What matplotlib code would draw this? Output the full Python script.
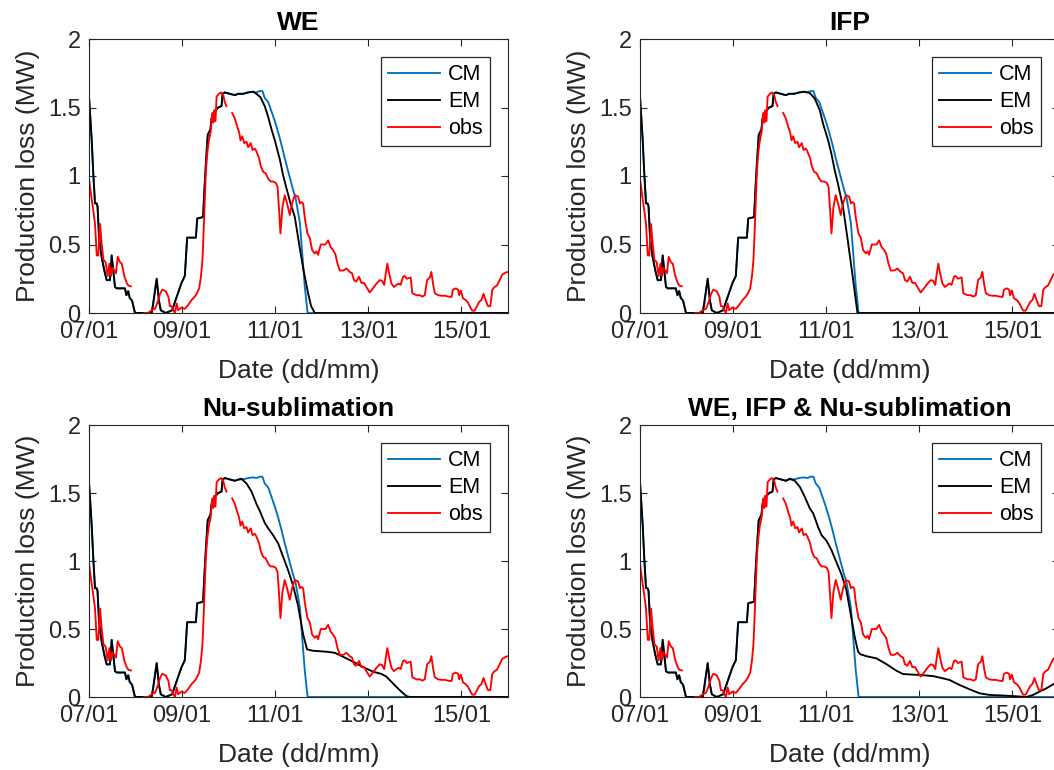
import numpy as np
import matplotlib
matplotlib.use('Agg')
import matplotlib.pyplot as plt

plt.rcParams['font.family'] = ['Liberation Sans', 'DejaVu Sans']

# ---------------- data (hours counted from 07/01 00:00) ----------------
titles = ['WE', 'IFP', 'Nu-sublimation', 'WE, IFP & Nu-sublimation']
series_names = ['CM', 'EM', 'obs']
xtick_days = [7, 9, 11, 13, 15]
xtick_labels = ['07/01', '09/01', '11/01', '13/01', '15/01']
yticks = [0, 0.5, 1, 1.5, 2]
ytick_labels = ['0', '0.5', '1', '1.5', '2']
start_day = 7
end_day = 16

# observations (gaps marked with nan)
obs_hours = [0, 1, 2.2, 3.1, 4, 4.8, 5.7, 6.5, 7.4, 8.6, 9.6, 10.5, 11.3, 12, 13.1, 13.9,
             14.8, 16, 16.9, 18.2, 19.4, 20.3, 21.6, 25,
             28.5, 30.5, 32.3, 34, 35.4, 36.6, 37.8, 39.5, 40.9, 41.7, 42.6, 43.5, 44.3, 45.2,
             46, 47.7, 49.4, 51.2, 52.9, 54.6, 55.5, 56.8, 57.7, 58.5, 59.2, 59.8, 60.3, 61,
             61.8, 62.7, 63.5, 64.1, 64.5, 65.2, 65.8, 67, 68, 69.2, 70, 70.9, 72.5,
             73.8, 75.2, 76.4, 77.4, 78.1, 79, 80, 81.2, 82, 83.4, 84.3, 85.5, 86.3, 87.7, 88.6,
             89.8, 91.1, 92.4, 93.6, 94.9, 96.3, 97.2, 98, 98.7, 99.7, 100.9, 102.1, 103.5,
             104.7, 106.1, 107.8, 108.7, 109.5, 110.4, 111.2, 112.6, 113.8, 115, 116.4, 117.3,
             118.1, 119.5, 120.7, 121.9, 123.3, 124.6, 125.8, 127, 128.1, 129.3, 131.1, 132.7,
             134.4, 135.6, 136.6, 137.8, 139.2, 140.4, 141.8, 143, 144.7, 146.4, 148.2, 149.9,
             151.1, 152.2, 153, 153.8, 154.7, 155.9, 157.2, 158.5, 159.6, 160.6, 161.9, 162.7,
             163.9, 164.9, 165.8, 166.7, 168.8, 170.5, 171.9, 173.1, 174.3, 175.7, 176.5, 177.4,
             178.3, 180, 181.7, 183.5, 185.2, 186.9, 187.6, 189.1, 190.3, 190.8, 191.7, 192.8,
             194.2, 195.4, 196.6, 197.6, 198.8, 200, 201.1, 202.3, 203.4, 204.4, 205.7, 206.9,
             207.9, 209.1, 210.3, 211.7, 213, 214.8, 216]
obs_mw = [0.98, 0.87, 0.75, 0.65, 0.42, 0.42, 0.65, 0.51, 0.39, 0.37, 0.27, 0.36, 0.27, 0.33, 0.31, 0.29,
          0.41, 0.37, 0.36, 0.27, 0.22, 0.20, 0.195, np.nan,
          0.0, 0.0, 0.02, 0.03, 0.08, 0.14, 0.17, 0.16, 0.12, 0.05, 0.05, 0.02, 0.0, 0.07,
          0.02, 0.04, 0.03, 0.06, 0.095, 0.12, 0.14, 0.18, 0.265, 0.39, 0.63, 0.87, 1.04, 1.17,
          1.26, 1.32, 1.46, 1.39, 1.48, 1.40, 1.58, 1.60, 1.61, 1.59, 1.54, 1.51, np.nan,
          1.46, 1.42, 1.36, 1.32, 1.26, 1.29, 1.24, 1.25, 1.21, 1.24, 1.19, 1.20, 1.18, 1.13, 1.07,
          1.03, 1.02, 0.98, 0.96, 0.96, 0.95, 0.92, 0.75, 0.58, 0.77, 0.86, 0.80, 0.715,
          0.80, 0.86, 0.85, 0.80, 0.81, 0.80, 0.70, 0.58, 0.55, 0.46, 0.435, 0.45,
          0.425, 0.50, 0.50, 0.50, 0.53, 0.48, 0.46, 0.43, 0.36, 0.31, 0.31, 0.325,
          0.30, 0.29, 0.24, 0.23, 0.265, 0.22, 0.22, 0.19, 0.15, 0.18, 0.215, 0.24,
          0.235, 0.205, 0.29, 0.36, 0.29, 0.215, 0.19, 0.205, 0.215, 0.205, 0.265, 0.27,
          0.25, 0.255, 0.26, 0.144, 0.13, 0.13, 0.12, 0.13, 0.24, 0.26, 0.30, 0.21,
          0.144, 0.13, 0.126, 0.126, 0.12, 0.117, 0.17, 0.18, 0.17, 0.13, 0.165, 0.107,
          0.095, 0.075, 0.04, 0.017, 0.017, 0.05, 0.08, 0.095, 0.14, 0.095, 0.05, 0.05,
          0.17, 0.19, 0.20, 0.24, 0.28, 0.295, 0.30]

# model part shared by CM and all EM runs (until the plateau)
rise_hours = [0, 1.4, 2.2, 3.1, 3.9, 4.4, 5.15, 6.5, 7.9, 9.1, 10.8, 11.7, 12.5, 13.4, 14.3,
              18.5, 19.3, 20.2, 21, 22.2, 23.7, 32.3, 33.1, 34.9, 36, 37, 39.5, 42.9, 44.3,
              46, 47.7, 49.4, 50.6, 55.1, 55.8, 58.8, 59.5, 60.3, 61.2, 62.6, 63.2, 64.6,
              66.6, 68.3, 68.9, 70, 72.6, 75.2]
rise_mw = [1.58, 1.26, 1.02, 0.80, 0.80, 0.78, 0.56, 0.41, 0.31, 0.24, 0.24, 0.42, 0.31, 0.19, 0.18,
           0.18, 0.13, 0.16, 0.11, 0.09, 0.0, 0.0, 0.07, 0.25, 0.095, 0.02, 0.0, 0.02, 0.08,
           0.15, 0.22, 0.27, 0.55, 0.55, 0.69, 0.70, 0.90, 1.10, 1.30, 1.34, 1.42, 1.47,
           1.50, 1.51, 1.60, 1.61, 1.60, 1.59]

cm_tail_hours = [76.9, 79.5, 82, 84.6, 86.3, 88, 89.4, 90.6, 92.4, 94.1, 95.8, 97.5, 99.2,
                 100.9, 103.5, 105.2, 106.5, 108.7, 110, 111.2, 112.7, 216]
cm_tail_mw = [1.60, 1.60, 1.61, 1.615, 1.61, 1.62, 1.62, 1.57, 1.54, 1.47, 1.40, 1.32, 1.23,
              1.13, 0.99, 0.90, 0.84, 0.66, 0.42, 0.20, 0.0, 0.0]

em_we_tail_hours = [76.9, 79.5, 82, 84.6, 86.3, 88.4, 90.6, 92.4, 94.1, 95.8, 98.4, 100,
                    101.8, 103.5, 106.1, 108.7, 110.5, 113, 114.5, 116.4, 216]
em_we_tail_mw = [1.60, 1.60, 1.61, 1.615, 1.60, 1.575, 1.51, 1.43, 1.34, 1.26, 1.12, 1.01,
                 0.91, 0.82, 0.70, 0.47, 0.32, 0.14, 0.05, 0.0, 0.0]

em_ifp_tail_hours = [76.9, 79.5, 82, 84.6, 86.3, 87.6, 90.1, 92.7, 94.4, 97, 98.7, 100.4,
                     102.1, 104.7, 107.3, 109.9, 112.1, 216]
em_ifp_tail_mw = [1.60, 1.60, 1.61, 1.615, 1.61, 1.605, 1.565, 1.48, 1.38, 1.26, 1.16, 1.04,
                  0.94, 0.77, 0.51, 0.24, 0.0, 0.0]

em_nu_tail_hours = [78.6, 81.2, 83.8, 86.3, 88, 90.6, 92.4, 94.9, 97.5, 100.1, 102.7, 105.2,
                    107.8, 110.4, 112.4, 115.5, 122.4, 126.7, 131, 136.1, 141.3, 146.4, 150.7,
                    153.3, 156.7, 160.2, 163.6, 165.4, 216]
em_nu_tail_mw = [1.605, 1.57, 1.51, 1.42, 1.37, 1.28, 1.24, 1.19, 1.13, 1.03, 0.93, 0.82,
                 0.67, 0.46, 0.35, 0.34, 0.333, 0.325, 0.296, 0.26, 0.22, 0.186, 0.17,
                 0.15, 0.10, 0.05, 0.007, 0.0, 0.0]

em_all_tail_hours = [77.3, 79.8, 82.4, 85, 87.6, 89.3, 91.8, 93.6, 96.1, 98.7, 101.3, 103.9,
                     106.4, 109, 110.7, 112.4, 113.5, 116.7, 121.9, 127, 132.2, 135.6, 140,
                     144.2, 151.1, 156.2, 159.6, 164.8, 170, 175.1, 180.3, 185.4, 192.3,
                     199.2, 202.6, 206, 209.4, 213.2, 216]
em_all_tail_mw = [1.605, 1.59, 1.545, 1.47, 1.385, 1.35, 1.25, 1.19, 1.15, 1.08, 0.99, 0.90,
                  0.785, 0.58, 0.44, 0.335, 0.315, 0.30, 0.284, 0.242, 0.193, 0.169, 0.165,
                  0.162, 0.154, 0.137, 0.125, 0.088, 0.056, 0.027, 0.015, 0.012, 0.007,
                  0.0, 0.015, 0.04, 0.063, 0.095, 0.11]

em_tails = [(em_we_tail_hours, em_we_tail_mw), (em_ifp_tail_hours, em_ifp_tail_mw),
            (em_nu_tail_hours, em_nu_tail_mw), (em_all_tail_hours, em_all_tail_mw)]

colors = {'CM': '#0072BD', 'EM': '#000000', 'obs': '#FF0000'}

# ---------------- figure ----------------
W, H = 1054, 770
fig = plt.figure(figsize=(W / 100, H / 100), dpi=100)

# axes boxes in pixels: (left, top, right, bottom)
boxes = [(89, 39, 508, 313), (640, 39, 1059, 313),
         (89, 425, 508, 697), (640, 425, 1059, 697)]


def to_days(hours):
    return start_day + np.asarray(hours, dtype=float) / 24.0


for i, (l, t, r, b) in enumerate(boxes):
    ax = fig.add_axes([l / W, 1 - b / H, (r - l) / W, (b - t) / H])
    cm_h = rise_hours + cm_tail_hours
    cm_v = rise_mw + cm_tail_mw
    em_h = rise_hours + em_tails[i][0]
    em_v = rise_mw + em_tails[i][1]
    ax.plot(to_days(cm_h), cm_v, color=colors['CM'], lw=1.35, label='CM')
    ax.plot(to_days(em_h), em_v, color=colors['EM'], lw=1.35, label='EM')
    ax.plot(to_days(obs_hours), obs_mw, color=colors['obs'], lw=1.35, label='obs')

    ax.set_xlim(start_day, end_day)
    ax.set_ylim(0, 2)
    ax.set_xticks(xtick_days)
    ax.set_xticklabels(xtick_labels)
    ax.set_yticks(yticks)
    ax.set_yticklabels(ytick_labels)
    ax.tick_params(direction='in', length=5, width=0.8, top=True, right=True,
                   labelsize=17, colors='#262626', pad=6)
    for sp in ax.spines.values():
        sp.set_color('#262626')
        sp.set_linewidth(0.8)
    ax.set_xlabel('Date (dd/mm)', fontsize=19, color='#262626', labelpad=11.5)
    ax.set_ylabel('Production loss (MW)', fontsize=19, color='#262626', labelpad=6)
    ax.set_title(titles[i], fontsize=19, fontweight='bold', color='#000000', pad=6.5)
    leg = ax.legend(loc='upper right', bbox_to_anchor=(0.957, 0.934), borderaxespad=0,
                    fontsize=15.5, frameon=True, fancybox=False, framealpha=1,
                    edgecolor='#262626', handlelength=2.4, handletextpad=0.4,
                    labelspacing=0.28, borderpad=0.33)
    leg.get_frame().set_linewidth(0.9)

fig.savefig('out.png', dpi=100)
